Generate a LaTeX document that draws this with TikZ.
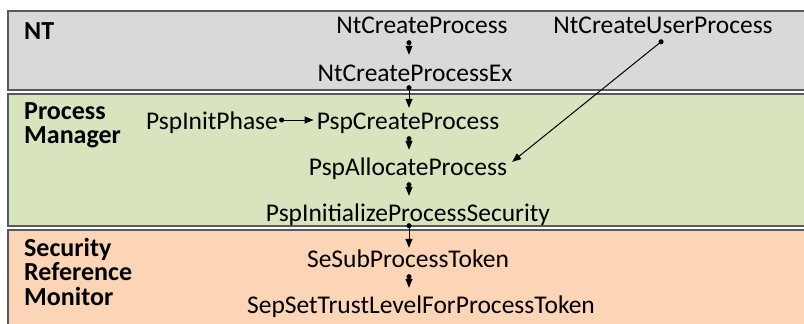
\documentclass[tikz,border=0pt]{standalone}
\usepackage{fontspec}
\setmainfont{Carlito}
\usetikzlibrary{arrows.meta}
\definecolor{ntgray}{HTML}{D9D9D9}
\definecolor{pmgreen}{HTML}{D7E4BD}
\definecolor{srmorange}{HTML}{FBD5B5}
\definecolor{bandline}{HTML}{595959}
\begin{document}
\begin{tikzpicture}[x=1pt, y=-1pt,
  band/.style={draw=bandline, line width=1.2pt},
  fn/.style={font=\fontsize{25.5}{30}\selectfont, inner sep=1pt, text height=16pt, text depth=6pt, anchor=base},
  layer/.style={font=\bfseries\fontsize{26}{24.5}\selectfont, align=left, inner sep=0pt, anchor=north west},
  call/.style={{Circle[length=5pt]}-{Triangle[length=9pt,width=7pt]}, line width=1pt, shorten >=8pt}]
\useasboundingbox (0,0) rectangle (804,324);

\path[band, fill=ntgray] (8,11) rectangle (830,90);
\path[band, fill=pmgreen] (8,94) rectangle (830,226);
\path[band, fill=srmorange] (8,230) rectangle (830,350);

\node[layer] (nt) at (24,22) {NT};
\node[layer] (pm) at (24,102) {Process\\Manager};
\node[layer] (srm) at (24,238) {Security\\Reference\\Monitor};

\node[fn] (ncp) at (422,33) {NtCreateProcess};
\node[fn] (ncpx) at (415,81) {NtCreateProcessEx};
\node[fn] (pcp) at (408,129) {PspCreateProcess};
\node[fn] (pap) at (408,175) {PspAllocateProcess};
\node[fn] (pips) at (408,221) {PspInitializeProcessSecurity};
\node[fn] (ssp) at (408,267) {SeSubProcessToken};
\node[fn] (sst) at (421,313) {SepSetTrustLevelForProcessToken};
\node[fn] (ncup) at (663,33) {NtCreateUserProcess};
\node[fn] (pip) at (212,129) {PspInitPhase};

\coordinate (spine) at (409,0);

\draw[call, shorten >=9pt] (ncp.south -| spine) -- (ncpx.north -| spine);
\draw[call, shorten >=4pt, shorten <=-3pt] (ncpx.south -| spine) -- (pcp.north -| spine);
\draw[call] (pcp.south -| spine) -- (pap.north -| spine);
\draw[call] (pap.south -| spine) -- (pips.north -| spine);
\draw[call, shorten >=2pt, shorten <=-5pt] (pips.south -| spine) -- (ssp.north -| spine);
\draw[call] (ssp.south -| spine) -- (sst.north -| spine);
\draw[call, shorten >=5pt] (ncup.south) -- ([yshift=5pt]pap.east);
\draw[call, shorten >=2pt] ([yshift=4pt]pip.east) -- ([yshift=4pt]pcp.west);
\end{tikzpicture}
\end{document}
